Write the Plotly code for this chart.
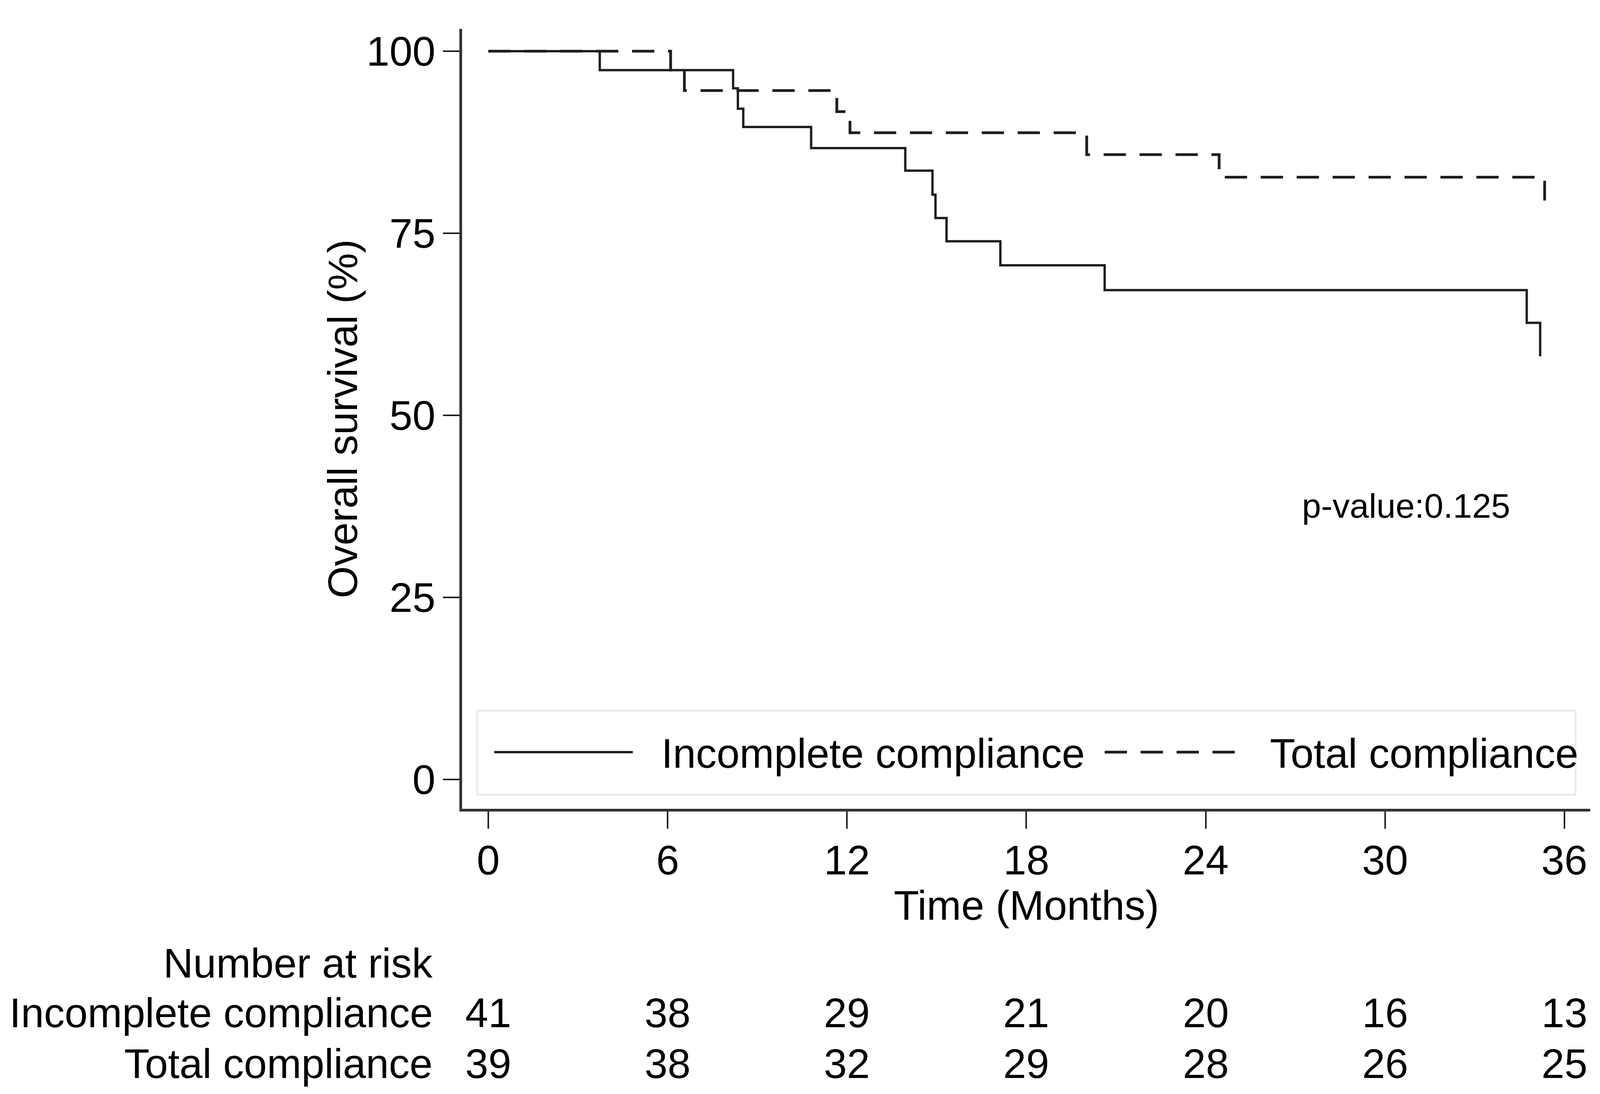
import plotly.graph_objects as go

# ---------------- data ----------------
group_names = ["Incomplete compliance", "Total compliance"]

months_incomplete = [0, 3.73, 8.19, 8.35, 8.53, 10.8, 13.95, 14.86, 14.96, 15.33, 17.13, 20.62, 34.74, 35.19]
surv_incomplete = [100, 97.4, 94.9, 92.1, 89.6, 86.7, 83.6, 80.3, 77.1, 73.9, 70.6, 67.2, 62.7, 58.1]

months_total = [0, 6.1, 6.56, 11.66, 12.1, 20.02, 24.45, 35.34]
surv_total = [100, 97.4, 94.6, 91.7, 88.8, 85.8, 82.7, 79.5]

risk_times = [0, 6, 12, 18, 24, 30, 36]
risk_incomplete = [41, 38, 29, 21, 20, 16, 13]
risk_total = [39, 38, 32, 29, 28, 26, 25]

x_ticks = [0, 6, 12, 18, 24, 30, 36]
y_ticks = [0, 25, 50, 75, 100]

x_title = "Time (Months)"
y_title = "Overall survival (%)"
risk_title = "Number at risk"
p_value_text = "p-value:0.125"
p_value_pos = (30.7, 37.6)

# ---------------- layout constants ----------------
REF_W, REF_H = 4339, 2800          # reference picture size
W, H = 4096, 2800                  # visible page area
SX = W / REF_W                     # horizontal scale
L, R, T, B = 1253 * SX, 26 * SX, 74, 730
PW, PH = REF_W - 1253 - 26, H - T - B
FONT = "Liberation Sans, Arial, sans-serif"
FS = 106
INK = "#1e1e1e"
DASH = "%dpx,%dpx" % (round(60 * SX), round(37 * SX))


def px_x(px):
    return (px - 1253) / PW


def px_y(py):
    return (H - B - py) / PH


fig = go.Figure()
fig.add_trace(go.Scatter(
    x=months_incomplete, y=surv_incomplete, mode="lines", name=group_names[0],
    line=dict(shape="hv", color=INK, width=6), showlegend=False))
fig.add_trace(go.Scatter(
    x=months_total, y=surv_total, mode="lines", name=group_names[1],
    line=dict(shape="hv", color=INK, width=7, dash=DASH), showlegend=False))

shapes = []
# legend box
shapes.append(dict(type="rect", xref="paper", yref="paper",
                   x0=px_x(1294), x1=px_x(4273), y0=px_y(2034), y1=px_y(1819),
                   line=dict(color="#ebebeb", width=5), fillcolor="white", layer="above"))
ly = px_y(1925)
shapes.append(dict(type="line", xref="paper", yref="paper", x0=px_x(1340), x1=px_x(1716),
                   y0=ly, y1=ly, line=dict(color=INK, width=6)))
shapes.append(dict(type="line", xref="paper", yref="paper", x0=px_x(2996), x1=px_x(3356),
                   y0=ly, y1=ly, line=dict(color=INK, width=7, dash=DASH)))

annotations = []
tf = dict(family=FONT, size=FS, color="black")
lty = px_y(1928)
annotations.append(dict(text=group_names[0], xref="paper", yref="paper", x=px_x(1791), y=lty,
                        xanchor="left", yanchor="middle", showarrow=False, font=tf))
annotations.append(dict(text=group_names[1], xref="paper", yref="paper", x=px_x(3442), y=lty,
                        xanchor="left", yanchor="middle", showarrow=False, font=tf))
# axis titles
annotations.append(dict(text=y_title, xref="paper", yref="paper", x=px_x(929), y=0.5,
                        textangle=-90, xanchor="center", yanchor="middle", showarrow=False, font=tf))
annotations.append(dict(text=x_title, xref="x", yref="paper", x=18, y=px_y(2317),
                        xanchor="center", yanchor="middle", showarrow=False, font=tf))
# p-value
annotations.append(dict(text=p_value_text, xref="x", yref="y", x=p_value_pos[0], y=p_value_pos[1],
                        xanchor="center", yanchor="middle", showarrow=False,
                        font=dict(family=FONT, size=88, color="black")))
# risk table
lab_x = px_x(1176)
rows = [(risk_title, None, 2465), (group_names[0], risk_incomplete, 2592), (group_names[1], risk_total, 2722)]
for label, vals, cy in rows:
    annotations.append(dict(text=label, xref="paper", yref="paper", x=lab_x, y=px_y(cy),
                            xanchor="right", yanchor="middle", showarrow=False, font=tf))
    if vals is not None:
        for t, v in zip(risk_times, vals):
            annotations.append(dict(text=str(v), xref="x", yref="paper", x=t, y=px_y(cy),
                                    xanchor="center", yanchor="middle", showarrow=False, font=tf))

fig.update_layout(
    width=W, height=H, autosize=False,
    margin=dict(l=L, r=R, t=T, b=B, pad=0),
    paper_bgcolor="white", plot_bgcolor="white",
    font=dict(family=FONT, size=FS, color="black"),
    shapes=shapes, annotations=annotations,
    showlegend=False,
)
fig.update_xaxes(
    range=[-0.876, 36.865], tickvals=x_ticks, ticktext=[str(v) for v in x_ticks],
    showgrid=False, zeroline=False, showline=True, linecolor="#333333", linewidth=7,
    ticks="outside", ticklen=44, tickwidth=4, tickcolor=INK,
    tickfont=dict(family=FONT, size=FS, color="black"), ticklabelstandoff=-10,
)
fig.update_yaxes(
    range=[-4.02, 103.06], tickvals=y_ticks, ticktext=[str(v) for v in y_ticks],
    showgrid=False, zeroline=False, showline=True, linecolor="#333333", linewidth=7,
    ticks="outside", ticklen=round(44 * SX), tickwidth=4, tickcolor=INK,
    tickfont=dict(family=FONT, size=FS, color="black"), ticklabelstandoff=-2,
)

fig.write_html(
    "out.html",
    config={"displayModeBar": False},
    post_script="document.body.style.margin='0px';document.body.style.overflow='hidden';",
)
